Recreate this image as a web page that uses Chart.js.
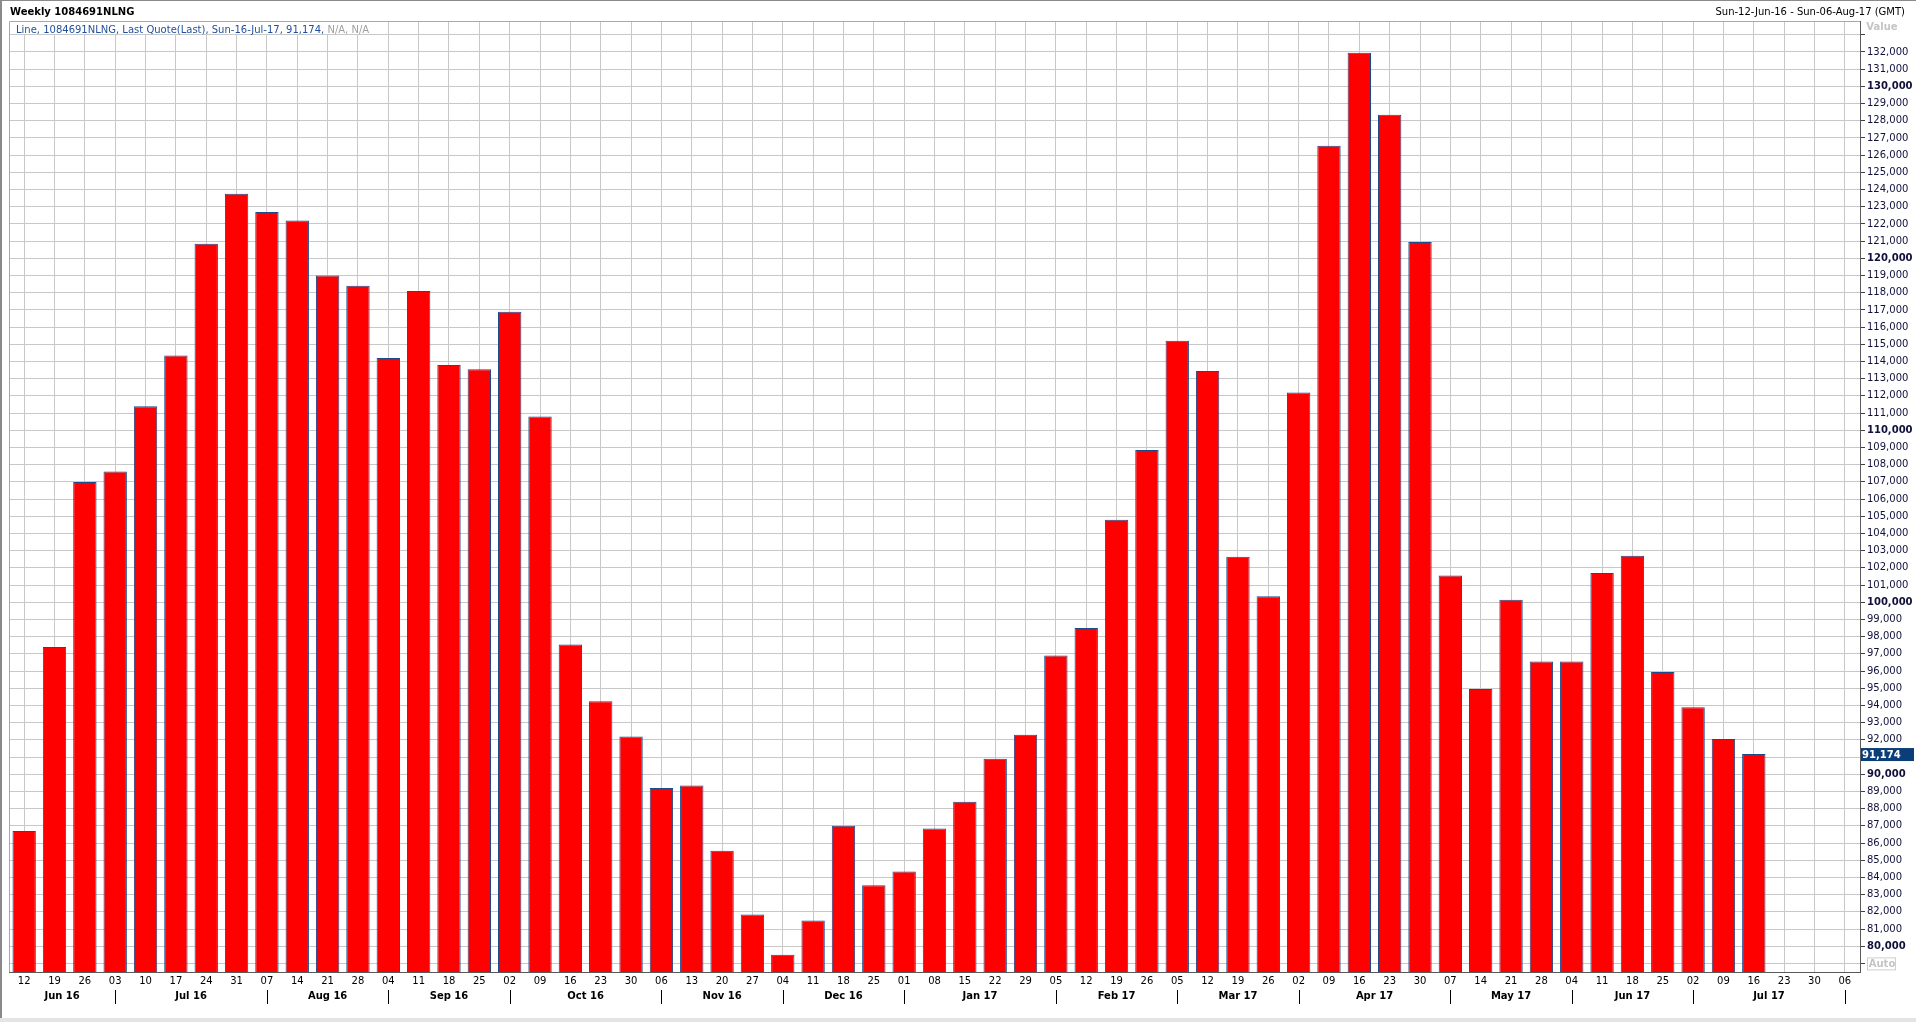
<!doctype html>
<html lang="en">
<head>
  <meta charset="UTF-8">
  <title>Weekly 1084691NLNG</title>
  <script src="https://cdn.jsdelivr.net/npm/chart.js"></script>
  <style>
    body { margin: 0; background: #fff; }
    #chart_01 { display: block; }
  </style>
</head>
<body>
  <canvas id="chart_01" width="1916" height="1022"></canvas>
  <script type="application/javascript">
    const dayLabels = ['12','19','26','03','10','17','24','31','07','14','21','28','04','11','18','25',
      '02','09','16','23','30','06','13','20','27','04','11','18','25','01','08','15','22','29',
      '05','12','19','26','05','12','19','26','02','09','16','23','30','07','14','21','28',
      '04','11','18','25','02','09','16','23','30','06']
    const monthNames = ['Jun 16','Jul 16','Aug 16','Sep 16','Oct 16','Nov 16','Dec 16',
      'Jan 17','Feb 17','Mar 17','Apr 17','May 17','Jun 17','Jul 17']
    const monthStarts = [0, 3, 8, 12, 16, 21, 25, 29, 34, 38, 42, 47, 51, 55, 60]
    const lastQuotes = [86700, 97400, 107000, 107600, 111400, 114350, 120850, 123750, 122700, 122200,
      119000, 118400, 114200, 118100, 113800, 113550, 116900, 110800, 97550, 94250,
      92200, 89200, 89350, 85550, 81850, 79500, 81500, 87000, 83550, 84350,
      86850, 88400, 90900, 92300, 96900, 98500, 104800, 108850, 115200, 113450,
      102650, 100350, 112200, 126550, 131950, 128350, 120950, 101550, 94950, 100150,
      96550, 96550, 101700, 102700, 95950, 93900, 92050, 91174]
    const yTicks = [79000, 80000, 81000, 82000, 83000, 84000, 85000, 86000, 87000, 88000, 89000,
      90000, 91000, 92000, 93000, 94000, 95000, 96000, 97000, 98000, 99000, 100000,
      101000, 102000, 103000, 104000, 105000, 106000, 107000, 108000, 109000, 110000,
      111000, 112000, 113000, 114000, 115000, 116000, 117000, 118000, 119000, 120000,
      121000, 122000, 123000, 124000, 125000, 126000, 127000, 128000, 129000, 130000,
      131000, 132000, 133000]
    const lastValue = 91174
    const yMin = 78500
    const yMax = 133800

    const FONT = 'DejaVu Sans'
    const fmt = v => v.toLocaleString('en-US')

    const extras = {
      id: 'extras',
      beforeDraw(chart) {
        const {ctx, width, height} = chart
        ctx.save()
        ctx.fillStyle = '#fff'
        ctx.fillRect(0, 0, width, height)
        ctx.restore()
      },
      afterDraw(chart) {
        const {ctx, chartArea: a, width, height} = chart
        const x = chart.scales.x
        const y = chart.scales.y
        ctx.save()

        // plot frame (left / top)
        ctx.strokeStyle = '#a8a8a8'
        ctx.lineWidth = 1
        ctx.beginPath()
        ctx.moveTo(a.left + 0.5, a.bottom)
        ctx.lineTo(a.left + 0.5, a.top + 0.5)
        ctx.lineTo(a.right, a.top + 0.5)
        ctx.stroke()

        // window frame
        ctx.fillStyle = '#8a8a8a'
        ctx.fillRect(0, 0, 2, height)
        ctx.fillRect(0, 0, width, 1)
        ctx.fillStyle = '#e4e4e4'
        ctx.fillRect(0, height - 4, width, 4)

        // headers
        ctx.textBaseline = 'middle'
        ctx.fillStyle = '#000'
        ctx.font = `bold 10px "${FONT}"`
        ctx.textAlign = 'left'
        ctx.fillText('Weekly 1084691NLNG', 10, 12)
        ctx.font = `10px "${FONT}"`
        ctx.textAlign = 'right'
        ctx.fillText('Sun-12-Jun-16 - Sun-06-Aug-17 (GMT)', 1905, 12)

        // legend line inside plot
        const t1 = 'Line, 1084691NLNG, Last Quote(Last), Sun-16-Jul-17, ' + fmt(lastValue) + ', '
        const t2 = 'N/A, N/A'
        ctx.font = `10px "${FONT}"`
        ctx.textAlign = 'left'
        const w1 = ctx.measureText(t1).width
        const w2 = ctx.measureText(t2).width
        ctx.fillStyle = '#fff'
        ctx.fillRect(a.left + 1, a.top + 1, w1 + w2 + 8, 12)
        ctx.fillStyle = '#1f4f9c'
        ctx.fillText(t1, 16, 30)
        ctx.fillStyle = '#a0a0a0'
        ctx.fillText(t2, 16 + w1, 30)

        // "Value" caption and "Auto" box on the axis
        ctx.font = `bold 10px "${FONT}"`
        ctx.textAlign = 'center'
        ctx.fillStyle = '#c4c4c4'
        ctx.fillText('Value', 1882, 27)
        const ay = y.getPixelForValue(79000)
        ctx.fillStyle = '#fff'
        ctx.fillRect(1867, ay - 6, 29, 13)
        ctx.strokeStyle = '#cfcfcf'
        ctx.strokeRect(1867.5, ay - 5.5, 28, 12)
        ctx.fillStyle = '#c4c4c4'
        ctx.fillText('Auto', 1882, ay + 1)

        // last value tag
        const ly = y.getPixelForValue(lastValue)
        ctx.fillStyle = '#0b3d78'
        ctx.fillRect(a.right + 1, ly - 6, width - a.right - 3, 13)
        ctx.fillStyle = '#fff'
        ctx.textAlign = 'left'
        ctx.fillText(fmt(lastValue), a.right + 2, ly + 1)

        // month separators and labels
        ctx.strokeStyle = '#000'
        ctx.lineWidth = 1
        for (let i = 1; i < monthStarts.length; i++) {
          const sx = Math.round(x.getPixelForValue(monthStarts[i])) + 0.5
          ctx.beginPath()
          ctx.moveTo(sx, 990)
          ctx.lineTo(sx, 1004)
          ctx.stroke()
        }
        ctx.font = `bold 10px "${FONT}"`
        ctx.textAlign = 'center'
        ctx.fillStyle = '#000'
        monthNames.forEach((m, i) => {
          const l = i === 0 ? a.left : x.getPixelForValue(monthStarts[i])
          const r = x.getPixelForValue(monthStarts[i + 1])
          ctx.fillText(m, (l + r) / 2, 996)
        })
        ctx.restore()
      }
    }

    const data = {
      labels: dayLabels,
      datasets: [{
        label: 'Last Quote',
        data: dayLabels.map((d, i) => i < lastQuotes.length ? lastQuotes[i] : null),
        backgroundColor: '#ff0000',
        borderColor: '#1b4a8c',
        borderWidth: 1,
        borderSkipped: 'bottom',
        categoryPercentage: 1,
        barPercentage: 0.77
      }]
    }

    const config = {
      type: 'bar',
      data,
      options: {
        responsive: false,
        animation: false,
        layout: {padding: {left: 9, top: 21, right: 0, bottom: 0}},
        plugins: {
          legend: {display: false},
          tooltip: {enabled: false}
        },
        scales: {
          x: {
            offset: true,
            grid: {
              offset: false,
              color: '#c8c8c8',
              drawTicks: false
            },
            border: {color: '#5a5a5a', width: 1},
            ticks: {
              autoSkip: false,
              maxRotation: 0,
              padding: 3,
              color: '#000',
              font: {family: FONT, size: 10}
            },
            afterFit(scale) { scale.height = 50 }
          },
          y: {
            position: 'right',
            min: yMin,
            max: yMax,
            grid: {
              color: '#c8c8c8',
              tickColor: '#404040',
              tickLength: 5
            },
            border: {color: '#5a5a5a', width: 1},
            afterBuildTicks(scale) {
              scale.ticks = yTicks.map(v => ({value: v}))
            },
            ticks: {
              autoSkip: false,
              padding: 2,
              color: '#10103a',
              font: ctx => ({
                family: FONT,
                size: 10,
                weight: ctx.tick && ctx.tick.value % 10000 === 0 ? 'bold' : 'normal'
              }),
              callback: v => (v === 79000 || v === 133000) ? '' : fmt(v)
            },
            afterFit(scale) { scale.width = 56 }
          }
        }
      },
      plugins: [extras]
    }

    const myChart = new Chart(document.getElementById('chart_01'), config)
  </script>
</body>
</html>
